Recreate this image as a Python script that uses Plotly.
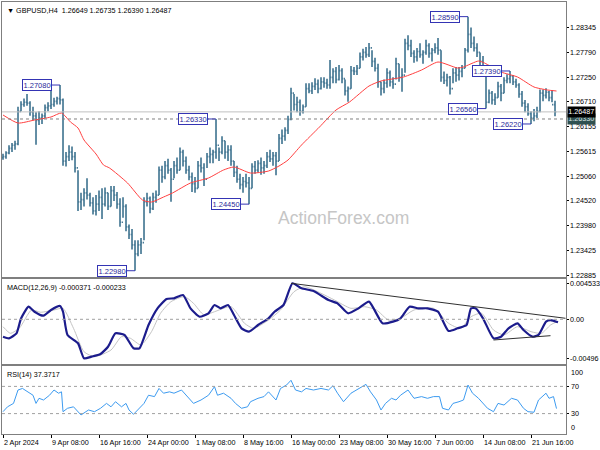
import plotly.graph_objects as go

# ---------------- data ----------------
# bars: one plotted bar for every second H4 bar (H4 index 0,2,4,...)
highs = [1.2556,1.2562,1.2575,1.2580,1.2585,1.2660,1.2672,1.2678,1.2688,1.2672,
         1.2660,1.2648,1.2650,1.2645,1.2665,1.2670,1.2697,1.2680,1.2682,1.2708,
         1.2678,1.2560,1.2575,1.2572,1.2560,1.2520,1.2470,1.2480,1.2502,1.2470,
         1.2460,1.2465,1.2475,1.2480,1.2482,1.2470,1.2485,1.2485,1.2472,1.2458,
         1.2460,1.2445,1.2400,1.2390,1.2365,1.2365,1.2370,1.2460,1.2470,1.2462,
         1.2470,1.2475,1.2528,1.2530,1.2540,1.2545,1.2525,1.2540,1.2548,1.2570,
         1.2565,1.2550,1.2530,1.2515,1.2505,1.2540,1.2548,1.2535,1.2558,1.2570,
         1.2565,1.2633,1.2570,1.2595,1.2585,1.2575,1.2575,1.2540,1.2530,1.2512,
         1.2505,1.2512,1.2505,1.2535,1.2540,1.2542,1.2548,1.2540,1.2560,1.2565,
         1.2560,1.2560,1.2600,1.2610,1.2615,1.2640,1.2702,1.2688,1.2682,1.2676,
         1.2665,1.2712,1.2712,1.2714,1.2723,1.2720,1.2725,1.2725,1.2722,1.2763,
         1.2745,1.2748,1.2752,1.2745,1.2720,1.2705,1.2750,1.2748,1.2752,1.2780,
         1.2788,1.2792,1.2801,1.2785,1.2768,1.2755,1.2715,1.2720,1.2745,1.2740,
         1.2725,1.2768,1.2755,1.2745,1.2810,1.2818,1.2808,1.2785,1.2790,1.2800,
         1.2785,1.2808,1.2800,1.2790,1.2800,1.2812,1.2785,1.2738,1.2733,1.2728,
         1.2745,1.2748,1.2748,1.2752,1.2790,1.2859,1.2835,1.2815,1.2800,1.2780,
         1.2772,1.2752,1.2698,1.2695,1.2690,1.2715,1.2710,1.2725,1.2732,1.2739,
         1.2730,1.2722,1.2712,1.2695,1.2675,1.2668,1.2650,1.2655,1.2660,1.2698,
         1.2698,1.2701,1.2695,1.2697,1.26735]
lows = [1.2543,1.2545,1.2555,1.2560,1.2565,1.2575,1.2650,1.2660,1.2662,1.2640,
        1.2630,1.2576,1.2620,1.2622,1.2635,1.2650,1.2655,1.2660,1.2665,1.2665,
        1.2530,1.2528,1.2540,1.2542,1.2515,1.2430,1.2432,1.2440,1.2455,1.2440,
        1.2422,1.2420,1.2430,1.2412,1.2440,1.2432,1.2440,1.2452,1.2435,1.2395,
        1.2415,1.2385,1.2368,1.2345,1.2298,1.2330,1.2335,1.2365,1.2440,1.2425,
        1.2432,1.2448,1.2465,1.2492,1.2500,1.2512,1.2450,1.2502,1.2512,1.2520,
        1.2528,1.2512,1.2498,1.2472,1.2470,1.2480,1.2515,1.2485,1.2525,1.2535,
        1.2535,1.2545,1.2540,1.2555,1.2545,1.2540,1.2530,1.2505,1.2492,1.2478,
        1.2470,1.2482,1.2445,1.2480,1.2512,1.2515,1.2510,1.2512,1.2525,1.2538,
        1.2530,1.2509,1.2540,1.2578,1.2585,1.2600,1.2630,1.2652,1.2648,1.2640,
        1.2645,1.2660,1.2690,1.2688,1.2697,1.2690,1.2698,1.2702,1.2700,1.2700,
        1.2712,1.2712,1.2718,1.2712,1.2685,1.2671,1.2700,1.2730,1.2730,1.2745,
        1.2762,1.2768,1.2770,1.2748,1.2738,1.2702,1.2685,1.2690,1.2702,1.2705,
        1.2700,1.2720,1.2715,1.2693,1.2735,1.2785,1.2770,1.2757,1.2760,1.2768,
        1.2755,1.2775,1.2768,1.2760,1.2778,1.2775,1.2715,1.2710,1.2705,1.2687,
        1.2712,1.2715,1.2718,1.2725,1.2745,1.2780,1.2790,1.2782,1.2770,1.2748,
        1.2745,1.2656,1.2668,1.2665,1.2664,1.2680,1.2672,1.2690,1.2712,1.2712,
        1.2708,1.2702,1.2680,1.2660,1.2648,1.2640,1.2622,1.2628,1.2635,1.2648,
        1.2672,1.2678,1.2672,1.2670,1.26390]
closes = [1.2550,1.2558,1.2568,1.2575,1.2578,1.2650,1.2665,1.2670,1.2668,1.2648,
          1.2640,1.2630,1.2635,1.2640,1.2658,1.2662,1.2665,1.2672,1.2678,1.2675,
          1.2540,1.2550,1.2560,1.2550,1.2525,1.2450,1.2455,1.2470,1.2465,1.2448,
          1.2430,1.2445,1.2460,1.2445,1.2470,1.2440,1.2475,1.2465,1.2445,1.2405,
          1.2440,1.2395,1.2378,1.2355,1.2335,1.2355,1.2360,1.2450,1.2458,1.2435,
          1.2460,1.2465,1.2520,1.2505,1.2530,1.2520,1.2500,1.2530,1.2520,1.2560,
          1.2540,1.2520,1.2505,1.2490,1.2480,1.2530,1.2525,1.2500,1.2550,1.2555,
          1.2560,1.2575,1.2560,1.2585,1.2560,1.2565,1.2540,1.2515,1.2500,1.2488,
          1.2495,1.2492,1.2480,1.2528,1.2520,1.2535,1.2525,1.2530,1.2550,1.2545,
          1.2552,1.2540,1.2590,1.2595,1.2608,1.2632,1.2690,1.2665,1.2670,1.2650,
          1.2660,1.2700,1.2695,1.2705,1.2710,1.2700,1.2715,1.2712,1.2708,1.2725,
          1.2738,1.2720,1.2740,1.2722,1.2695,1.2700,1.2740,1.2738,1.2745,1.2770,
          1.2780,1.2775,1.2790,1.2760,1.2745,1.2715,1.2700,1.2712,1.2735,1.2715,
          1.2710,1.2755,1.2725,1.2730,1.2800,1.2795,1.2778,1.2770,1.2782,1.2775,
          1.2780,1.2795,1.2778,1.2785,1.2790,1.2785,1.2725,1.2718,1.2725,1.2700,
          1.2735,1.2730,1.2738,1.2745,1.2785,1.2820,1.2800,1.2790,1.2780,1.2760,
          1.2750,1.2670,1.2690,1.2675,1.2680,1.2705,1.2690,1.2718,1.2722,1.2728,
          1.2715,1.2708,1.2688,1.2668,1.2660,1.2645,1.2635,1.2640,1.2650,1.2690,
          1.2685,1.2692,1.2680,1.26649,1.26487]
first_open = 1.2548

# moving average (red line), H4 index / price
ma_idx = [0,10,21,32,39,45,50,54,62,67,71,83,93,99,107,113,125,137,147,154,165,177,
          184,190,199,211,222,231,244,252,267,279,290,303,307,317,321,332,343,354,363,369]
ma_val = [1.26418,1.26241,1.26307,1.26374,1.26462,1.26263,1.26131,1.25866,1.25557,
          1.25314,1.25248,1.24917,1.24541,1.24497,1.24607,1.24696,1.24917,1.25027,
          1.25204,1.25270,1.25137,1.25181,1.25292,1.25424,1.25755,1.26153,1.26528,
          1.26705,1.27058,1.27169,1.27257,1.27411,1.27588,1.27456,1.27478,1.27610,
          1.27566,1.27367,1.27257,1.27036,1.26970,1.26948]

# MACD main
macd_idx = [0,4,9,12,17,21,27,32,38,40,43,50,54,59,65,70,75,81,87,91,97,103,109,114,
            120,125,131,137,141,145,150,154,159,164,170,177,181,187,193,199,207,217,
            223,230,237,244,253,260,265,271,277,283,290,297,303,309,312,315,320,327,
            332,337,343,347,353,357,362,365,370]
macd_val = [-0.00222,-0.00243,-0.00179,0.0001,0.00161,0.00097,0.00046,0.00119,0.0017,
            0.00097,-0.002,-0.00306,-0.00498,-0.00477,-0.00443,-0.0035,-0.00179,-0.002,
            -0.0037,-0.0037,-0.00073,0.0014,0.00259,0.00268,0.0031,0.0014,0.00033,
            0.00077,0.00183,0.0014,0.00183,0.00055,-0.00115,-0.00158,-0.00073,0.00013,
            0.00097,0.00183,0.0046,0.00396,0.00361,0.00246,0.00204,0.00077,0.0014,
            0.00225,-0.00051,-0.0003,0.00013,0.00161,0.0014,0.0014,0.00097,-0.00149,
            -0.00115,-0.00073,0.0014,0.0014,0.00013,-0.00243,-0.00222,-0.00115,
            -0.00051,-0.00137,-0.00222,-0.002,-0.0003,-0.0001,-0.000371]
# MACD signal
sig_idx = [0,5,11,19,25,34,40,47,54,61,72,79,85,92,99,105,112,121,127,134,141,152,
           161,167,177,185,194,201,212,221,232,241,249,257,265,274,287,297,305,312,
           319,327,334,343,352,359,365,370]
sig_val = [-0.00094,-0.00179,-0.0011,0.00119,0.0009,0.00119,0.0014,-0.00115,-0.00414,
           -0.00477,-0.00392,-0.00222,-0.00243,-0.00328,-0.00158,0.00077,0.00225,
           0.00289,0.00204,0.00055,0.00097,0.00161,-0.00051,-0.00115,-0.0001,0.00119,
           0.00352,0.00416,0.00332,0.00246,0.0014,0.00161,0.00119,-0.0001,0.00013,
           0.00119,0.0014,-0.00051,-0.00115,0.00033,0.00077,-0.00137,-0.002,-0.00094,
           -0.00158,-0.00179,-0.00073,-0.000233]
# MACD trend lines
trend_hi_idx = [192, 375]
trend_hi_val = [0.0046, 0.00013]
trend_lo_idx = [327, 365]
trend_lo_val = [-0.00264, -0.00209]

# RSI(14)
rsi_idx = [0,3,7,10,13,17,20,22,24,27,31,34,37,39,40,43,47,52,57,61,65,69,72,75,79,
           82,84,87,91,94,97,101,104,107,111,114,119,123,127,132,137,141,143,147,152,
           155,159,163,165,170,174,177,182,185,189,192,195,199,202,207,212,217,220,
           223,227,232,237,242,245,249,252,255,259,262,265,270,274,279,283,287,291,
           293,297,300,304,307,310,313,317,320,323,327,330,334,339,343,347,350,354,
           357,362,364,367,369]
rsi_val = [32.8,40,45,64.7,67,62,57,45,52.5,50,57,64.7,60,62,32.8,37.8,40,28,35.3,
           32.8,37.8,45,40,47.5,40,45,35.3,29,37.8,45,57,55,67,60,62,60,64.7,55,45,
           50,57,69.6,57,60,52.5,45,37.8,40,47.5,52.5,55,62,50,67,72,79,64.7,62,67,
           64.7,67,64.7,71,60,47.5,60,67,73,62,50,35.3,45,52.5,50,57,64.7,52.5,55,
           52.5,55,55,37.8,35.3,45,47.5,50,72,60,52.5,45,37.8,32.8,45,42.6,52.5,50,
           37.8,32.8,32,50,60,52.5,55,37.3717]

# swing labels (bar H4 index, price)
swing_idx = [38, 142, 88, 164, 310, 338, 322, 352]
swing_val = [1.2708, 1.2633, 1.2298, 1.2445, 1.2859, 1.2739, 1.2656, 1.2622]

# axes
price_ticks = [1.28345,1.27790,1.27250,1.26710,1.26155,1.25615,1.25060,1.24520,
               1.23980,1.23425,1.22885]
date_idx = [0,32,64,96,128,160,192,224,256,288,320,352]
date_lbl = ["2 Apr 2024","9 Apr 08:00","16 Apr 16:00","24 Apr 00:00","1 May 08:00",
            "8 May 16:00","16 May 00:00","23 May 08:00","30 May 16:00","7 Jun 00:00",
            "14 Jun 08:00","21 Jun 16:00"]
macd_ticks = [0.004533, 0.0, -0.00496]
macd_tick_lbl = ["0.004533", "0.00", "-0.00496"]
rsi_ticks = [100, 70, 30, 0]
last_price = 1.26487
level_price = 1.2633
title_text = "GBPUSD,H4  1.26649 1.26735 1.26390 1.26487"

# ---------------- figure ----------------
FONT = "Liberation Sans, Arial, sans-serif"
BAR = "#4a7b96"
FRAME = "#7f7f7f"
opens = [first_open] + closes[:-1]
bar_idx = [2 * i for i in range(len(closes))]

fig = go.Figure()
fig.add_trace(go.Ohlc(x=bar_idx, open=opens, high=highs, low=lows, close=closes,
                      increasing=dict(line=dict(color=BAR, width=1.7)),
                      decreasing=dict(line=dict(color=BAR, width=1.7)),
                      tickwidth=0.4, xaxis="x", yaxis="y", hoverinfo="skip"))
fig.add_trace(go.Scatter(x=ma_idx, y=ma_val, mode="lines", xaxis="x", yaxis="y",
                         line=dict(color="#ff4040", width=1, shape="spline", smoothing=0.6),
                         hoverinfo="skip"))
fig.add_trace(go.Scatter(x=sig_idx, y=sig_val, mode="lines", xaxis="x2", yaxis="y2",
                         line=dict(color="#c4c4c4", width=1, shape="spline", smoothing=0.6),
                         hoverinfo="skip"))
fig.add_trace(go.Scatter(x=macd_idx, y=macd_val, mode="lines", xaxis="x2", yaxis="y2",
                         line=dict(color="#1c1c8c", width=2.2, shape="spline", smoothing=0.5),
                         hoverinfo="skip"))
fig.add_trace(go.Scatter(x=trend_hi_idx, y=trend_hi_val, mode="lines", xaxis="x2", yaxis="y2",
                         line=dict(color="#303030", width=1), hoverinfo="skip"))
fig.add_trace(go.Scatter(x=trend_lo_idx, y=trend_lo_val, mode="lines", xaxis="x2", yaxis="y2",
                         line=dict(color="#303030", width=1), hoverinfo="skip"))
fig.add_trace(go.Scatter(x=rsi_idx, y=rsi_val, mode="lines", xaxis="x3", yaxis="y3",
                         line=dict(color="#3d9bf0", width=1), hoverinfo="skip"))

XR = [-0.67, 375.33]
axis_common = dict(showgrid=False, zeroline=False, showline=True, mirror=True,
                   linecolor=FRAME, linewidth=1, automargin=False, showticklabels=False)
tf = dict(family=FONT, size=7.2, color="#000000")

shapes = []
# level lines
shapes.append(dict(type="line", xref="x domain", yref="y", x0=0, x1=1,
                   y0=last_price, y1=last_price, line=dict(color="#c0c0c0", width=1)))
shapes.append(dict(type="line", xref="x domain", yref="y", x0=0, x1=1,
                   y0=level_price, y1=level_price, line=dict(color="#808080", width=1, dash="dot")))
shapes.append(dict(type="line", xref="x2 domain", yref="y2", x0=0, x1=1, y0=0, y1=0,
                   line=dict(color="#a0a0a0", width=1, dash="dot")))
for lv in (70, 30):
    shapes.append(dict(type="line", xref="x3 domain", yref="y3", x0=0, x1=1, y0=lv, y1=lv,
                       line=dict(color="#a0a0a0", width=1, dash="dot")))

annotations = []
LBL = "#3434b4"
for xi, pv in zip(swing_idx, swing_val):
    shapes.append(dict(type="line", xref="x", yref="y", xsizemode="pixel", xanchor=xi,
                       x0=-8, x1=0, y0=pv, y1=pv, line=dict(color=LBL, width=1)))
    annotations.append(dict(x=xi, y=pv, xref="x", yref="y", text=f"{pv:.5f}",
                            showarrow=False, xanchor="right", yanchor="middle", xshift=-8,
                            font=dict(family=FONT, size=7.5, color="#2a2a9a"),
                            bgcolor="white", bordercolor=LBL, borderwidth=1, borderpad=0.5))

# right-axis tick labels (drawn as text next to the axis ticks)
for v in price_ticks:
    annotations.append(dict(x=1, y=v, xref="paper", yref="y", text=f"{v:.5f}",
                            showarrow=False, xanchor="left", yanchor="middle", xshift=2,
                            font=tf))
for v, t in zip(macd_ticks, macd_tick_lbl):
    annotations.append(dict(x=1, y=v, xref="paper", yref="y2", text=t,
                            showarrow=False, xanchor="left", yanchor="middle", xshift=2,
                            font=tf))
for v in rsi_ticks:
    ya = "top" if v == 100 else ("bottom" if v == 0 else "middle")
    annotations.append(dict(x=1, y=v, xref="paper", yref="y3", text=str(v),
                            showarrow=False, xanchor="left", yanchor=ya, xshift=3,
                            font=tf))
# bottom date labels, starting at their tick
for xi, t in zip(date_idx, date_lbl):
    annotations.append(dict(x=xi, y=0, xref="x3", yref="paper", text=t, showarrow=False,
                            xanchor="left", yanchor="top", yshift=-2, xshift=-1, font=tf))

# price tags on right axis
annotations.append(dict(x=1, y=level_price, xref="paper", yref="y", text=f"{level_price:.5f}",
                        showarrow=False, xanchor="left", yanchor="middle", xshift=1,
                        font=dict(family=FONT, size=7.2, color="#d8e4e4"),
                        bgcolor="#2f5050", borderpad=0.3))
annotations.append(dict(x=1, y=last_price, xref="paper", yref="y", text=f"{last_price:.5f}",
                        showarrow=False, xanchor="left", yanchor="middle", xshift=1,
                        font=dict(family=FONT, size=7.2, color="white"),
                        bgcolor="black", borderpad=0.3))
# titles
annotations.append(dict(x=0.005, y=1, xref="paper", yref="paper", yshift=-2,
                        text="\u25bc " + title_text, showarrow=False,
                        xanchor="left", yanchor="top", font=tf))
annotations.append(dict(x=0.005, y=0.3588, xref="paper", yref="paper", yshift=-2,
                        text=f"MACD(12,26,9) {macd_val[-1]:.6f} {sig_val[-1]:.6f}",
                        showarrow=False, xanchor="left", yanchor="top", font=tf))
annotations.append(dict(x=0.005, y=0.1574, xref="paper", yref="paper", yshift=-2,
                        text=f"RSI(14) {rsi_val[-1]:.4f}", showarrow=False,
                        xanchor="left", yanchor="top", font=tf))
# watermark
annotations.append(dict(x=0.725, y=0.50, xref="paper", yref="paper", text="ActionForex.com",
                        showarrow=False, font=dict(family=FONT, size=17.5, color="#c6c6c6")))

ytick = dict(ticks="outside", ticklen=2, tickcolor="#000000")
fig.update_layout(
    width=600, height=450, margin=dict(l=2, r=34, t=2, b=16, autoexpand=False),
    paper_bgcolor="white", plot_bgcolor="white", showlegend=False,
    xaxis=dict(domain=[0, 1], range=XR, anchor="y",
               rangeslider=dict(visible=False), **axis_common),
    xaxis2=dict(domain=[0, 1], range=XR, anchor="y2", matches="x", **axis_common),
    xaxis3=dict(domain=[0, 1], range=XR, anchor="y3", matches="x", tickmode="array",
                tickvals=date_idx, ticks="outside", ticklen=3, tickcolor="#000000",
                **axis_common),
    yaxis=dict(domain=[0.3634, 1], range=[1.22841, 1.28913], side="right", anchor="x",
               tickmode="array", tickvals=price_ticks, **ytick, **axis_common),
    yaxis2=dict(domain=[0.1620, 0.3588], range=[-0.005708, 0.005146], side="right",
                anchor="x2", tickmode="array", tickvals=macd_ticks, **ytick, **axis_common),
    yaxis3=dict(domain=[0, 0.1574], range=[0, 100], side="right", anchor="x3",
                tickmode="array", tickvals=[70, 30], **ytick, **axis_common),
    shapes=shapes, annotations=annotations,
)

fig.write_html("out.html", config={"displayModeBar": False, "staticPlot": True},
               post_script="document.body.style.margin='0';document.body.style.padding='0';")
